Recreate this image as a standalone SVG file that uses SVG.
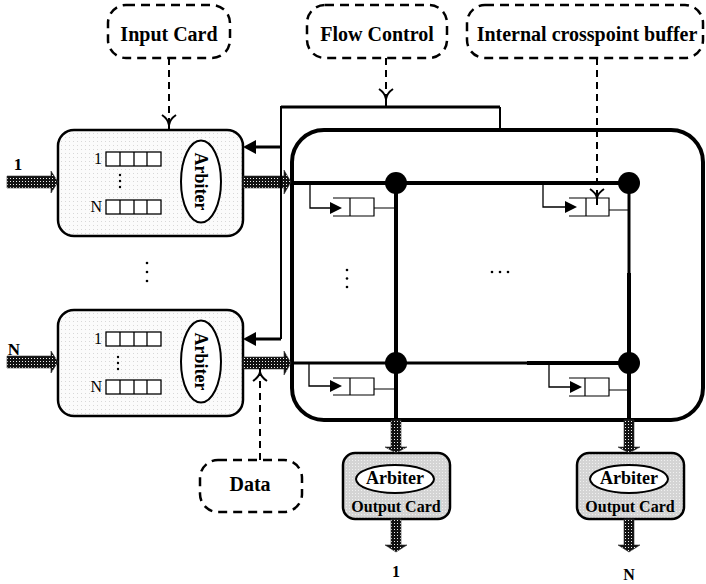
<svg xmlns="http://www.w3.org/2000/svg" width="706" height="584" viewBox="0 0 706 584">
<defs>
<pattern id="hatch" patternUnits="userSpaceOnUse" width="3" height="3">
<rect width="3" height="3" fill="#111"/>
<rect x="1" y="1" width="1" height="1" fill="#eee"/>
</pattern>
<pattern id="inFill" patternUnits="userSpaceOnUse" width="4" height="4">
<rect width="4" height="4" fill="#fbfbfb"/>
<rect x="1" y="1" width="1" height="1" fill="#d8d8d8"/>
</pattern>
<pattern id="outFill" patternUnits="userSpaceOnUse" width="3" height="3">
<rect width="3" height="3" fill="#d4d4d4"/>
<rect x="1" y="1" width="1" height="1" fill="#f0f0f0"/>
</pattern>
</defs>
<style>
.dbox{fill:white;stroke:#000;stroke-width:2.5;stroke-dasharray:9 6}
.dline{fill:none;stroke:#000;stroke-width:2;stroke-dasharray:7 5}
.ohead{fill:none;stroke:#000;stroke-width:2}
.lbl{font-family:"Liberation Serif",serif;font-weight:bold;fill:#000}
.q{font-family:"Liberation Serif",serif;font-size:16px;fill:#000}
.card{fill:url(#inFill);stroke:#000;stroke-width:2.5}
.ocard{fill:url(#outFill);stroke:#000;stroke-width:2.5}
.ell{fill:white;stroke:#000;stroke-width:2}
.qr{fill:white;stroke:#000;stroke-width:1.3}
.hat{fill:url(#hatch);stroke:#333;stroke-width:0.6}
.thick{fill:none;stroke:#000;stroke-width:4}
.med{fill:none;stroke:#000;stroke-width:3}
.thin{fill:none;stroke:#000;stroke-width:1.3}
.buf{fill:none;stroke:#000;stroke-width:1.2}
</style>

<!-- Dashed label boxes -->
<g id="input-card-label">
<rect class="dbox" x="108" y="5" width="122" height="53" rx="18"/>
<text class="lbl" x="169" y="41" font-size="20" text-anchor="middle">Input Card</text>
</g>
<g id="flow-control-label">
<rect class="dbox" x="307" y="5" width="140" height="53" rx="18"/>
<text class="lbl" x="377" y="41" font-size="20" text-anchor="middle">Flow Control</text>
</g>
<g id="crosspoint-label">
<rect class="dbox" x="467" y="5" width="236" height="53" rx="18"/>
<text class="lbl" x="587" y="41" font-size="20" text-anchor="middle">Internal crosspoint buffer</text>
</g>
<g id="data-label">
<rect class="dbox" x="200" y="460" width="102" height="52" rx="18"/>
<text class="lbl" x="250" y="491" font-size="20" text-anchor="middle">Data</text>
</g>

<!-- Input card 1 -->
<g id="input-card-1">
<rect class="card" x="58" y="130" width="185" height="106" rx="16"/>
<text class="q" x="102" y="164" text-anchor="end">1</text>
<rect class="qr" x="106" y="152" width="55" height="14"/>
<path class="qr" d="M120,152V166M134,152V166M147,152V166"/>
<circle cx="120" cy="175" r="1.2"/><circle cx="120" cy="181" r="1.2"/><circle cx="120" cy="187" r="1.2"/>
<text class="q" x="102" y="212" text-anchor="end">N</text>
<rect class="qr" x="106" y="200" width="55" height="14"/>
<path class="qr" d="M120,200V214M134,200V214M147,200V214"/>
<ellipse class="ell" cx="201" cy="181.5" rx="20" ry="41"/>
<text class="lbl" font-size="18" text-anchor="middle" transform="translate(201,181.5) rotate(90)" y="6">Arbiter</text>
</g>

<!-- Input card N -->
<g id="input-card-N">
<rect class="card" x="58" y="310" width="185" height="106" rx="16"/>
<text class="q" x="102" y="344" text-anchor="end">1</text>
<rect class="qr" x="106" y="332" width="55" height="14"/>
<path class="qr" d="M120,332V346M134,332V346M147,332V346"/>
<circle cx="118" cy="357" r="1.2"/><circle cx="118" cy="363" r="1.2"/><circle cx="118" cy="369" r="1.2"/>
<text class="q" x="102" y="392" text-anchor="end">N</text>
<rect class="qr" x="106" y="380" width="55" height="14"/>
<path class="qr" d="M120,380V394M134,380V394M147,380V394"/>
<ellipse class="ell" cx="201" cy="361.5" rx="20" ry="41"/>
<text class="lbl" font-size="18" text-anchor="middle" transform="translate(201,361.5) rotate(90)" y="6">Arbiter</text>
</g>

<!-- vertical dots between input cards -->
<g id="input-dots">
<circle cx="147" cy="263" r="1.3"/><circle cx="147" cy="272" r="1.3"/><circle cx="147" cy="281" r="1.3"/>
</g>

<!-- Switch fabric -->
<g id="fabric">
<rect x="292" y="130" width="411" height="290" rx="32" fill="white" stroke="#000" stroke-width="4"/>
<path class="thick" d="M292,183H629"/>
<path class="med" d="M292,363H527"/>
<path class="thick" d="M527,363H629"/>
<path class="thick" d="M396,183V420"/>
<path class="med" d="M629,183V273"/>
<path class="thick" d="M629,273V420"/>
<circle cx="396" cy="183" r="11"/>
<circle cx="629" cy="183" r="11"/>
<circle cx="396" cy="363" r="11"/>
<circle cx="629" cy="363" r="11"/>
<circle cx="347" cy="270" r="1.3"/><circle cx="347" cy="278.5" r="1.3"/><circle cx="347" cy="287" r="1.3"/>
<circle cx="492" cy="272" r="1.3"/><circle cx="500" cy="272" r="1.3"/><circle cx="508" cy="272" r="1.3"/>
</g>

<!-- Crosspoint buffers -->
<g id="xbuf-1-1">
<path class="thin" d="M310,183V208H332"/>
<polygon points="330,202 342,208 330,214"/>
<path class="buf" d="M333,198H374V216H333M350,198V216M374,208H396"/>
</g>
<g id="xbuf-1-N">
<path class="thin" d="M543,183V207H567"/>
<polygon points="565,201 577,207 565,213"/>
<path class="buf" d="M569,198H609V216H569M586,198V216M609,210H629"/>
</g>
<g id="xbuf-N-1">
<path class="thin" d="M309,363V386H332"/>
<polygon points="330,380 342,386 330,392"/>
<path class="buf" d="M333,378H374V395H333M350,378V395M374,389H396"/>
</g>
<g id="xbuf-N-N">
<path class="thin" d="M549,363V387H572"/>
<polygon points="570,381 582,387 570,393"/>
<path class="buf" d="M569,378H609V396H569M585,378V396M609,390H629"/>
</g>

<!-- Output cards -->
<g id="output-card-1">
<rect class="ocard" x="343" y="453" width="107" height="66" rx="12"/>
<ellipse class="ell" cx="395" cy="479" rx="39" ry="14"/>
<text class="lbl" x="395" y="484" font-size="18" text-anchor="middle">Arbiter</text>
<text class="lbl" x="396" y="512" font-size="16" text-anchor="middle">Output Card</text>
</g>
<g id="output-card-N">
<rect class="ocard" x="577" y="453" width="107" height="66" rx="12"/>
<ellipse class="ell" cx="629" cy="479" rx="39" ry="14"/>
<text class="lbl" x="629" y="484" font-size="18" text-anchor="middle">Arbiter</text>
<text class="lbl" x="630" y="512" font-size="16" text-anchor="middle">Output Card</text>
</g>

<!-- Connectors -->
<g id="connectors">
<!-- hatched data arrows -->
<polygon class="hat" points="7,176 51,176 51,171 58,182 51,193 51,188 7,188"/>
<polygon class="hat" points="7,356 51,356 51,351 58,362 51,373 51,368 7,368"/>
<polygon class="hat" points="243,176 284,176 284,170 291,182 284,194 284,188 243,188"/>
<polygon class="hat" points="243,357 284,357 284,351 291,363 284,375 284,369 243,369"/>
<polygon class="hat" points="391,420 401,420 401,447 407,447 396,453 385,447 391,447"/>
<polygon class="hat" points="624,420 634,420 634,447 640,447 629,453 618,447 624,447"/>
<polygon class="hat" points="391,519 401,519 401,545 407,545 396,552 385,545 391,545"/>
<polygon class="hat" points="624,519 634,519 634,545 640,545 629,552 618,545 624,545"/>
<!-- flow control feedback -->
<path class="med" d="M281,107H500"/>
<path fill="none" stroke="#000" stroke-width="2" d="M500,107V130M281,106V339"/>
<path class="med" d="M281,147H255M281,339H255"/>
<polygon points="243,147 256,140 256,154"/>
<polygon points="243,339 256,332 256,346"/>
<!-- dashed pointers -->
<path class="dline" d="M169,58V129"/>
<path class="ohead" d="M162,115Q168,119 169,125Q170,119 176,115M169,124V130"/>
<path class="dline" d="M386,58V106"/>
<path class="ohead" d="M379,89Q385,93 386,99Q387,93 393,89M386,98V107"/>
<path class="dline" d="M597,58V203"/>
<path class="ohead" d="M590,189Q596,193 597,198Q598,193 604,189M597,197V205"/>
<path class="dline" d="M260,460V370"/>
<path class="ohead" d="M253,381Q259,377 260,372Q261,377 267,381M260,373V368"/>
</g>

<!-- port labels -->
<g id="port-labels">
<text class="lbl" x="18" y="170" font-size="17" text-anchor="middle">1</text>
<text class="lbl" x="14" y="355" font-size="17" text-anchor="middle">N</text>
<text class="lbl" x="396" y="577" font-size="16" text-anchor="middle">1</text>
<text class="lbl" x="629" y="580" font-size="16" text-anchor="middle">N</text>
</g>
</svg>
